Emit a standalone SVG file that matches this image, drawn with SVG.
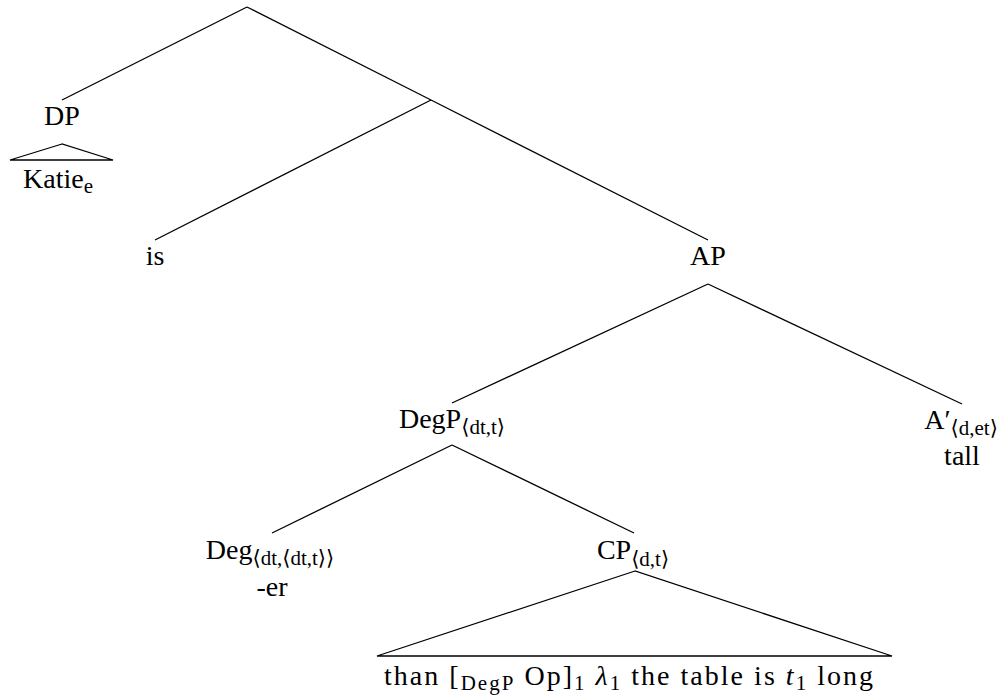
<svg xmlns="http://www.w3.org/2000/svg" width="1003" height="698" viewBox="0 0 1003 698" font-family="'Liberation Serif', 'DejaVu Serif', Tinos, 'Noto Serif', Times, serif">
<style>
text{font-size:28px;fill:#000}
.s{font-size:21px}
.i{font-style:italic}
line,polygon{stroke:#000;stroke-width:1.3;fill:none}
</style>
<rect width="1003" height="698" fill="#fff"/>
<g id="connectors">
<line x1="247" y1="7" x2="62" y2="100"/>
<line x1="247" y1="7" x2="431" y2="100"/>
<line x1="431" y1="100" x2="155" y2="240"/>
<line x1="431" y1="100" x2="708" y2="240"/>
<line x1="708" y1="284" x2="452" y2="403"/>
<line x1="708" y1="284" x2="962" y2="404"/>
<line x1="452" y1="445" x2="272" y2="533"/>
<line x1="452" y1="445" x2="634" y2="533"/>
</g>
<g id="DP">
<text x="62" y="125" text-anchor="middle">DP</text>
<polygon points="62,144 10,160 113,160"/>
<text x="23" y="188">Katie<tspan class="s" dy="5">e</tspan></text>
</g>
<g id="is"><text x="155" y="265" text-anchor="middle">is</text></g>
<g id="AP"><text x="708" y="265" text-anchor="middle">AP</text></g>
<g id="DegP"><text x="452" y="428" text-anchor="middle">DegP<tspan class="s" dy="6">⟨dt,t⟩</tspan></text></g>
<g id="Aprime"><text x="961" y="429" text-anchor="middle">A′<tspan class="s" dy="6">⟨d,et⟩</tspan></text>
<text x="962" y="465" text-anchor="middle">tall</text></g>
<g id="Deg"><text x="270" y="559" text-anchor="middle">Deg<tspan class="s" dy="6">⟨dt,⟨dt,t⟩⟩</tspan></text>
<text x="272" y="596" text-anchor="middle">-er</text></g>
<g id="CP"><text x="633" y="559" text-anchor="middle">CP<tspan class="s" dy="7">⟨d,t⟩</tspan></text>
<polygon points="635,571 377,656 892,656"/>
<text x="384" y="685" textLength="489" lengthAdjust="spacing">than [<tspan class="s" dy="5">DegP</tspan><tspan dy="-5"> Op]</tspan><tspan class="s" dy="5">1</tspan><tspan dy="-5" class="i"> λ</tspan><tspan class="s" dy="5">1</tspan><tspan dy="-5"> the table is </tspan><tspan class="i">t</tspan><tspan class="s" dy="5">1</tspan><tspan dy="-5"> long</tspan></text>
</g>
</svg>
